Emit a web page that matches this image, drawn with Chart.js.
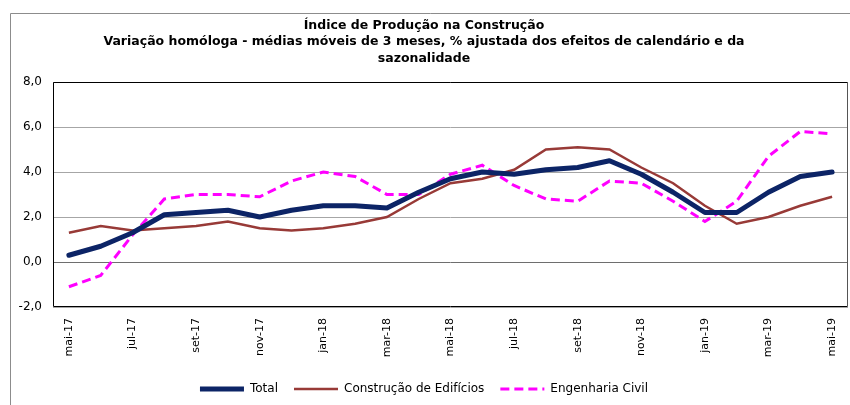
<!DOCTYPE html>
<html>
<head>
<meta charset="utf-8">
<script src="https://cdn.jsdelivr.net/npm/chart.js@4.4.0/dist/chart.umd.min.js"></script>
<style>
  html, body { margin: 0; padding: 0; background: #fff; }
  #wrap { position: relative; width: 850px; height: 405px; }
</style>
</head>
<body>
<div id="wrap"><canvas id="c" width="850" height="405"></canvas></div>
<script>
const categories = ["mai-17","jun-17","jul-17","ago-17","set-17","out-17","nov-17","dez-17",
  "jan-18","fev-18","mar-18","abr-18","mai-18","jun-18","jul-18","ago-18","set-18","out-18","nov-18","dez-18",
  "jan-19","fev-19","mar-19","abr-19","mai-19"];
const total = [0.3,0.7,1.3,2.1,2.2,2.3,2.0,2.3,2.5,2.5,2.4,3.1,3.7,4.0,3.9,4.1,4.2,4.5,3.9,3.1,2.2,2.2,3.1,3.8,4.0];
const edificios = [1.3,1.6,1.4,1.5,1.6,1.8,1.5,1.4,1.5,1.7,2.0,2.8,3.5,3.7,4.1,5.0,5.1,5.0,4.2,3.5,2.5,1.7,2.0,2.5,2.9];
const engenharia = [-1.1,-0.6,1.2,2.8,3.0,3.0,2.9,3.6,4.0,3.8,3.0,3.0,3.9,4.3,3.4,2.8,2.7,3.6,3.5,2.7,1.8,2.7,4.7,5.8,5.7];
const seriesNames = ["Total","Construção de Edifícios","Engenharia Civil"];
const titleLines = ["Índice de Produção na Construção",
  "Variação homóloga - médias móveis de 3 meses, % ajustada dos efeitos de calendário e da",
  "sazonalidade"];

const FONT = "'DejaVu Sans', sans-serif";

const frame = {
  id: 'frame',
  beforeDraw(chart) {
    const ctx = chart.ctx;
    ctx.save();
    ctx.strokeStyle = '#8c8c8c';
    ctx.lineWidth = 1;
    ctx.beginPath();
    ctx.moveTo(10.5, 405);
    ctx.lineTo(10.5, 13.5);
    ctx.lineTo(850, 13.5);
    ctx.stroke();
    ctx.restore();
  },
  afterDatasetsDraw(chart) {
    const a = chart.chartArea, ctx = chart.ctx;
    ctx.save();
    ctx.strokeStyle = '#000';
    ctx.lineWidth = 1;
    ctx.beginPath();
    ctx.moveTo(Math.round(a.right) - 0.5, Math.round(a.top) + 0.5);
    ctx.lineTo(Math.round(a.left) + 0.5, Math.round(a.top) + 0.5);
    ctx.lineTo(Math.round(a.left) + 0.5, Math.round(a.bottom) - 0.5);
    ctx.lineTo(Math.round(a.right) - 0.5, Math.round(a.bottom) - 0.5);
    ctx.stroke();
    ctx.strokeStyle = '#555';
    ctx.beginPath();
    ctx.moveTo(Math.round(a.right) - 0.5, Math.round(a.top) + 0.5);
    ctx.lineTo(Math.round(a.right) - 0.5, Math.round(a.bottom) - 0.5);
    ctx.stroke();
    ctx.restore();
  }
};

new Chart(document.getElementById('c'), {
  type: 'line',
  data: {
    labels: categories,
    datasets: [
      { label: seriesNames[0], data: total, borderColor: '#0c2466', backgroundColor: '#0c2466',
        borderWidth: 5, pointRadius: 0, tension: 0, borderCapStyle: 'round', borderJoinStyle: 'round' },
      { label: seriesNames[1], data: edificios, borderColor: '#983a37', backgroundColor: '#983a37',
        borderWidth: 2.5, pointRadius: 0, tension: 0 },
      { label: seriesNames[2], data: engenharia, borderColor: '#ff00ff', backgroundColor: '#ff00ff',
        borderWidth: 3, borderDash: [9, 5], pointRadius: 0, tension: 0 }
    ]
  },
  options: {
    responsive: false,
    animation: false,
    events: [],
    layout: { padding: { left: 0, right: 2, top: 0, bottom: 0 } },
    scales: {
      x: {
        offset: true,
        grid: { display: false, drawTicks: false },
        border: { display: false },
        ticks: {
          autoSkip: false, maxRotation: 90, minRotation: 90, padding: 11,
          color: '#000', font: { family: FONT, size: 11 },
          callback(v, i) { return i % 2 === 0 ? this.getLabelForValue(v) : ''; }
        },
        afterFit(s) { s.height = 60; s.paddingLeft = 0; s.paddingRight = 0; }
      },
      y: {
        min: -2, max: 8,
        grid: {
          drawTicks: false,
          color(ctx) { return ctx.tick && ctx.tick.value === 0 ? '#6e6e6e' : '#a6a6a6'; },
          lineWidth: 1
        },
        border: { display: false },
        ticks: {
          stepSize: 2, padding: 11, color: '#000', font: { family: FONT, size: 12 },
          callback(v) { return v.toFixed(1).replace('.', ','); }
        },
        afterFit(s) { s.width = 53; }
      }
    },
    plugins: {
      title: {
        display: true,
        text: titleLines,
        color: '#000',
        font: { family: FONT, size: 12.5, weight: 'bold', lineHeight: 1.32 },
        padding: { top: 17, bottom: 15.5 }
      },
      legend: {
        position: 'bottom',
        labels: {
          usePointStyle: true,
          pointStyle: 'line',
          pointStyleWidth: 44,
          boxHeight: 12,
          color: '#000',
          font: { family: FONT, size: 12 },
          padding: 16,
          generateLabels(chart) {
            const items = Chart.defaults.plugins.legend.labels.generateLabels(chart);
            items.forEach(it => {
              const ds = chart.data.datasets[it.datasetIndex];
              it.lineDash = ds.borderDash || [];
              it.lineWidth = ds.borderWidth;
              it.strokeStyle = ds.borderColor;
              it.lineCap = 'butt';
              it.pointStyle = 'line';
            });
            return items;
          }
        }
      },
      tooltip: { enabled: false }
    }
  },
  plugins: [frame]
});
</script>
</body>
</html>
